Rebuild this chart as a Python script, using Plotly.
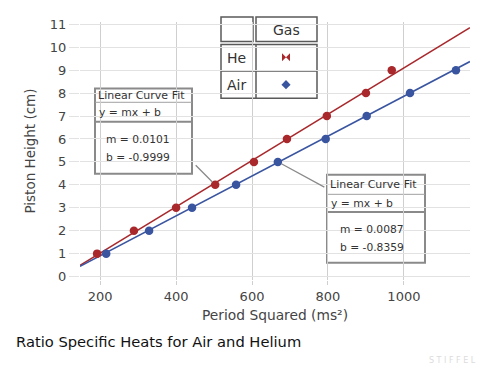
import plotly.graph_objects as go

# ---- data ----
he_x = [192, 289, 400, 503, 605, 692, 797, 900, 968]
he_y = [1, 2, 3, 4, 5, 6, 7, 8, 9]
air_x = [216, 329, 442, 558, 668, 794, 902, 1016, 1137]
air_y = [1, 2, 3, 4, 5, 6, 7, 8, 9]
he_fit = {"m": 0.0101, "b": -0.9999}
air_fit = {"m": 0.0087, "b": -0.8359}
x_ticks = [200, 400, 600, 800, 1000]
y_ticks = list(range(0, 12))
x_range = [147, 1174]
y_range = [-0.15, 11.1]

RED = "#a8282c"
BLUE = "#3a55a0"
FONT = "DejaVu Sans"

OFF = 8  # page body margin offset
W, H = 500 - OFF, 378 - OFF
# plot area in page pixels: x 80..470, y 17..280.5
L, R, T, B = 80 - OFF, 500 - 470, 17 - OFF, 378 - 280.5
pw, ph = W - L - R, H - T - B


def px(xp):
    return (xp - OFF - L) / pw


def py(yp):
    return (H - B - (yp - OFF)) / ph


fig = go.Figure()

# fit lines
for fit, col in [(he_fit, RED), (air_fit, BLUE)]:
    fig.add_trace(go.Scatter(
        x=x_range, y=[fit["m"] * v + fit["b"] for v in x_range],
        mode="lines", line=dict(color=col, width=1.6), hoverinfo="skip",
        showlegend=False, cliponaxis=True))

fig.add_trace(go.Scatter(x=he_x, y=he_y, mode="markers", name="He",
                         marker=dict(color=RED, size=8.5), showlegend=False))
fig.add_trace(go.Scatter(x=air_x, y=air_y, mode="markers", name="Air",
                         marker=dict(color=BLUE, size=8.5), showlegend=False))

# legend key markers on an invisible overlay axis (0..1 of plot area)
fig.add_trace(go.Scatter(x=[px(286)], y=[py(53)], mode="markers", xaxis="x2", yaxis="y2",
                         marker=dict(symbol="bowtie", color=RED, size=8),
                         showlegend=False, hoverinfo="skip", cliponaxis=False))
fig.add_trace(go.Scatter(x=[px(286)], y=[py(81)], mode="markers", xaxis="x2", yaxis="y2",
                         marker=dict(symbol="diamond", color=BLUE, size=7),
                         showlegend=False, hoverinfo="skip", cliponaxis=False))

shapes = []


def rect(x0, y0, x1, y1, color, width):
    shapes.append(dict(type="rect", xref="paper", yref="paper",
                       x0=px(x0), x1=px(x1), y0=py(y1), y1=py(y0),
                       line=dict(color=color, width=width), fillcolor="white",
                       layer="between"))


def hline(x0, x1, y, color, width):
    shapes.append(dict(type="line", xref="paper", yref="paper",
                       x0=px(x0), x1=px(x1), y0=py(y), y1=py(y),
                       line=dict(color=color, width=width), layer="between"))


def vline(x, y0, y1, color, width):
    shapes.append(dict(type="line", xref="paper", yref="paper",
                       x0=px(x), x1=px(x), y0=py(y0), y1=py(y1),
                       line=dict(color=color, width=width), layer="between"))


# legend table
TC = "#5a5a5a"
rect(221, 12, 253, 37, TC, 1.5)
rect(256, 12, 317, 37, TC, 1.5)
rect(221, 40, 317, 95, TC, 1.5)
vline(256, 40, 95, TC, 1.5)
hline(221, 317, 67, TC, 1.5)

# callout boxes
BC = "#8a8a8a"
rect(95, 85, 192, 172, BC, 2)
hline(95, 192, 99, "#a0a0a0", 1)
hline(95, 192, 119, BC, 2)
rect(327, 173, 425, 263, BC, 2)
hline(327, 425, 193, "#a0a0a0", 1)
hline(327, 425, 211, BC, 2)

annotations = []


def txt(x, y, s, size=10, color="#333", anchor="left"):
    annotations.append(dict(x=px(x), y=py(y), xref="paper", yref="paper",
                            text=s, showarrow=False, xanchor=anchor, yanchor="middle",
                            font=dict(family=FONT, size=size, color=color)))


txt(286, 25, "Gas", 14, "#333", "center")
txt(236, 54, "He", 14, "#333", "center")
txt(236, 81, "Air", 14, "#333", "center")

txt(96, 92, "Linear Curve Fit", 11)
txt(97, 109, "y = mx + b", 10.8)
txt(104, 137, "m = 0.0101", 10.7)
txt(104, 155, "b = -0.9999", 10.7)

txt(328, 183, "Linear Curve Fit", 11)
txt(329, 202, "y = mx + b", 10.8)
txt(338, 229, "m = 0.0087", 10.7)
txt(338, 247, "b = -0.8359", 10.7)

# leader lines
annotations.append(dict(x=he_x[3], y=he_y[3], xref="x", yref="y", text="",
                        showarrow=True, arrowhead=0, arrowwidth=1.3, arrowcolor="#8a8a8a",
                        ax=-21, ay=-21, standoff=4))
annotations.append(dict(x=air_x[4], y=air_y[4], xref="x", yref="y", text="",
                        showarrow=True, arrowhead=0, arrowwidth=1.3, arrowcolor="#8a8a8a",
                        ax=48, ay=26, standoff=4))

# watermark
txt(452, 363, "S T I F F E L", 8, "#dcdcdc", "center")

fig.update_layout(
    width=W, height=H,
    margin=dict(l=L, r=R, t=T, b=B),
    paper_bgcolor="white", plot_bgcolor="white",
    font=dict(family=FONT, color="#444"),
    title=dict(text="Ratio Specific Heats for Air and Helium", x=(16 - OFF) / W, xanchor="left",
               xref="container", yref="container", y=1 - (342 - OFF) / H, yanchor="middle",
               font=dict(family=FONT, size=14.7, color="#111")),
    xaxis=dict(range=x_range, tickvals=x_ticks, showgrid=True, gridcolor="#cfcfcf",
               zeroline=False, showline=False, ticks="outside", ticklen=4, tickcolor="#cfcfcf",
               tickfont=dict(size=13, color="#444"),
               title=dict(text="Period Squared (ms²)", font=dict(size=13.8, color="#444"),
                          standoff=7)),
    yaxis=dict(range=y_range, tickvals=y_ticks, showgrid=True, gridcolor="#e2e2e2",
               zeroline=False, showline=False, ticks="outside", ticklen=10, tickcolor="#e2e2e2",
               tickfont=dict(size=13, color="#444"),
               title=dict(text="Piston Height (cm)", font=dict(size=13.5, color="#444"),
                          standoff=11)),
    xaxis2=dict(range=[0, 1], overlaying="x", visible=False, anchor="y2"),
    yaxis2=dict(range=[0, 1], overlaying="y", visible=False, anchor="x2"),
    shapes=shapes,
    annotations=annotations,
)

fig.write_html("out.html")
